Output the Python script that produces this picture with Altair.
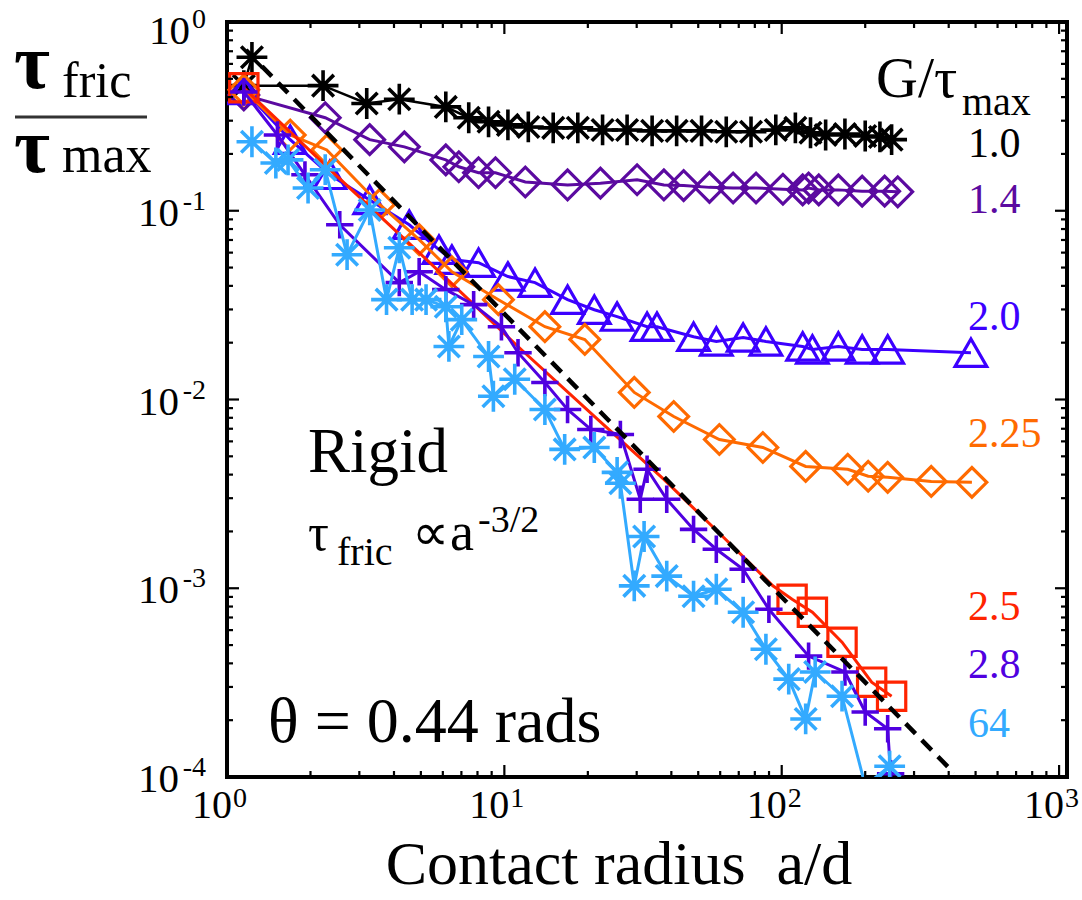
import altair as alt
import pandas as pd

# ---------------- layout ----------------
PADL, PADT, W, H = 227, 22, 840, 755

# ---------------- data ----------------
series_labels = ["1.0", "1.4", "2.0", "2.25", "2.5", "2.8", "64"]
series_colors = ["#000000", "#5b0aa0", "#3c00ff", "#ff6a00", "#ff2400", "#5000e0", "#33aaff"]

g10_x = [1.23, 1.15, 2.22, 3.19, 4.18, 6.15, 7.44, 8.77, 10.3, 12.2, 15.0, 18.4, 22.6, 27.7,
         34.1, 41.8, 51.4, 63.1, 77.5, 95.2, 112, 127, 144, 169, 200, 226, 249]
g10_y = [0.65, 0.46, 0.46, 0.37, 0.39, 0.355, 0.311, 0.296, 0.285, 0.278, 0.275, 0.275, 0.268, 0.268,
         0.265, 0.265, 0.265, 0.262, 0.262, 0.268, 0.275, 0.259, 0.252, 0.255, 0.249, 0.246, 0.238]

g14_x = [1.15, 2.26, 3.27, 4.36, 6.15, 6.85, 8.07, 9.29, 11.9, 16.9, 22.2, 30.1, 37.6, 44.3,
         54.9, 66.8, 80.8, 101, 119, 125, 136, 160, 195, 235, 262]
g14_y = [0.411, 0.311, 0.238, 0.218, 0.186, 0.171, 0.159, 0.159, 0.142, 0.137, 0.140, 0.146, 0.137, 0.136,
         0.133, 0.132, 0.132, 0.130, 0.129, 0.132, 0.129, 0.129, 0.127, 0.127, 0.126]

g20_x = [1.15, 1.69, 2.35, 3.27, 4.54, 5.81, 6.47, 8.07, 10.3, 12.9, 16.9, 21.1, 25.5, 32.7, 35.5,
         48.1, 58.1, 72.6, 87.7, 119, 129, 160, 195, 241, 481]
g20_y = [0.437, 0.238, 0.155, 0.114, 0.0843, 0.0622, 0.0551, 0.0531, 0.0448, 0.0416, 0.0338, 0.0299,
         0.0275, 0.0243, 0.0243, 0.0215, 0.0203, 0.0213, 0.0203, 0.0191, 0.0184, 0.0191, 0.0184, 0.0184, 0.0177]

g225_x = [1.15, 1.69, 2.29, 3.55, 4.93, 6.47, 9.52, 14.0, 19.5, 29.4, 40.8, 59.6, 85.5, 122, 173,
          205, 241, 346, 485]
g225_y = [0.437, 0.252, 0.210, 0.108, 0.0703, 0.0475, 0.0338, 0.0243, 0.0208, 0.0109, 0.00813, 0.00614,
          0.00557, 0.00442, 0.00427, 0.00392, 0.00387, 0.00368, 0.00364]

g25_x = [1.15, 2.35, 4.93, 11.5, 21.7, 37.6, 58.1, 92.9, 109, 129, 165, 211, 249]
g25_y = [0.448, 0.165, 0.060, 0.0184, 0.00784, 0.00377, 0.00203, 0.00103, 0.000875, 0.000746,
         0.000518, 0.000318, 0.000268]
g25_marker = [True, False, False, False, False, False, False, False, True, True, True, True, True]

g28_x = [1.15, 1.52, 1.91, 2.55, 4.18, 4.93, 6.15, 7.75, 9.76, 11.2, 14.0, 16.9, 20.5, 26.2, 30.9,
         32.7, 38.5, 48.1, 58.1, 72.6, 89.9, 125, 169, 200, 241, 247]
g28_y = [0.426, 0.252, 0.155, 0.0843, 0.0416, 0.0475, 0.0382, 0.0318, 0.0243, 0.0177, 0.0123, 0.00885,
         0.00694, 0.00653, 0.00296, 0.00427, 0.00296, 0.00205, 0.00161, 0.00126, 0.000774, 0.000437,
         0.00036, 0.000221, 0.00018, 0.000104]

g64_x = [1.23, 1.50, 1.66, 1.96, 2.26, 2.71, 3.27, 3.76, 4.18, 4.65, 5.22, 6.15, 6.31, 7.02, 8.77,
         9.13, 10.9, 14.0, 16.5, 21.1, 25.5, 26.2, 29.4, 31.9, 38.5, 48.1, 58.1, 72.6, 87.7, 106,
         122, 132, 165, 200, 245]
g64_y = [0.232, 0.179, 0.186, 0.132, 0.165, 0.0585, 0.101, 0.0338, 0.0637, 0.0338, 0.0338, 0.0310,
         0.0191, 0.0265, 0.0169, 0.0104, 0.0128, 0.00885, 0.00544, 0.00557, 0.00411, 0.0036, 0.00103,
         0.00188, 0.00116, 0.000907, 0.000988, 0.000746, 0.000475, 0.00033, 0.000203, 0.00036,
         0.000268, 0.00009, 0.000114]
g64_marker = [True] * 33 + [False, True]

rigid_x = [1.17, 418]
rigid_y = [0.711, 0.000105]

x_tick_major = [1, 10, 100, 1000]
x_tick_exp = ["0", "1", "2", "3"]
y_tick_major = [1, 0.1, 0.01, 0.001, 0.0001]
y_tick_exp = ["0", "-1", "-2", "-3", "-4"]

x_title = "Contact radius\u00a0 a/d"

# ---------------- styling ----------------
ASTER = "M-1,0L1,0M0,-1L0,1M-0.7,-0.7L0.7,0.7M-0.7,0.7L0.7,-0.7"
PLUS = "M-1,0L1,0M0,-1L0,1"
FONT = "Liberation Serif"

xs = alt.Scale(type="log", domain=[1, 1068])
ys = alt.Scale(type="log", domain=[0.0001, 1])


def XE(f="x"):
    return alt.X(f"{f}:Q", scale=xs, axis=None)


def YE(f="y"):
    return alt.Y(f"{f}:Q", scale=ys, axis=None)


def series(xv, yv, color, shape, size, marker=None, lw=3, mw=3.2):
    df = pd.DataFrame({"x": xv, "y": yv, "i": list(range(len(xv))),
                       "m": marker if marker is not None else [True] * len(xv)})
    base = alt.Chart(df)
    line = base.mark_line(color=color, strokeWidth=lw, clip=True).encode(
        x=XE(), y=YE(), order="i:Q")
    pts = base.transform_filter("datum.m").mark_point(
        shape=shape, size=size, color=color, filled=False, strokeWidth=mw,
        opacity=1, clip=True).encode(x=XE(), y=YE())
    return [line, pts]


layers = []
layers += series(g10_x, g10_y, series_colors[0], ASTER, 950, lw=2.5, mw=3.6)
layers += series(g14_x, g14_y, series_colors[1], "diamond", 880)
layers += series(g20_x, g20_y, series_colors[2], "triangle-up", 1000)
layers += series(g225_x, g225_y, series_colors[3], "diamond", 880)
layers += series(g25_x, g25_y, series_colors[4], "square", 800, marker=g25_marker, lw=3)
layers += series(g28_x, g28_y, series_colors[5], PLUS, 750, mw=3.6)
layers += series(g64_x, g64_y, series_colors[6], ASTER, 950, marker=g64_marker, mw=3.6)

rigid = alt.Chart(pd.DataFrame({"x": rigid_x, "y": rigid_y})).mark_line(
    color="black", strokeWidth=4.5, strokeDash=[14, 9], clip=True).encode(x=XE(), y=YE())
layers.append(rigid)

# ---------------- inward ticks on all four sides ----------------
x_minor = [m * d for d in [1, 10, 100] for m in range(2, 10)]
y_minor = [m * d for d in [0.0001, 0.001, 0.01, 0.1] for m in range(2, 10)]


def vticks(vals, length):
    df = pd.DataFrame({"v": vals})
    b = alt.Chart(df).mark_rule(color="black", strokeWidth=2.2)
    return [b.encode(x=XE("v"), y=alt.value(H), y2=alt.value(H - length)),
            b.encode(x=XE("v"), y=alt.value(0), y2=alt.value(length))]


def hticks(vals, length):
    df = pd.DataFrame({"v": vals})
    b = alt.Chart(df).mark_rule(color="black", strokeWidth=2.2)
    return [b.encode(y=YE("v"), x=alt.value(0), x2=alt.value(length)),
            b.encode(y=YE("v"), x=alt.value(W), x2=alt.value(W - length))]


layers += vticks(x_tick_major, 12) + vticks(x_minor, 6)
layers += hticks(y_tick_major, 12) + hticks(y_minor, 6)

# ---------------- tick labels ----------------
xl = pd.DataFrame({"v": x_tick_major, "e": x_tick_exp, "b": ["10"] * 4})
layers.append(alt.Chart(xl).mark_text(font=FONT, fontSize=40, align="right", baseline="alphabetic",
                                      dx=5).encode(x=XE("v"), y=alt.value(H + 41), text="b:N"))
layers.append(alt.Chart(xl).mark_text(font=FONT, fontSize=28, align="left", baseline="alphabetic",
                                      dx=6).encode(x=XE("v"), y=alt.value(H + 30), text="e:N"))

yl = pd.DataFrame({"v": y_tick_major, "e": y_tick_exp, "b": ["10"] * 5})
for cond, shift in [("datum.v == 1", 7), ("datum.v != 1", 0)]:
    sub = alt.Chart(yl).transform_filter(cond)
    layers.append(sub.transform_calculate(
        xb="length(datum.e) > 1 ? -48 : -37").mark_text(
        font=FONT, fontSize=41, align="right", baseline="alphabetic", dy=15 + shift).encode(
        x=alt.X("xb:Q", scale=None), y=YE("v"), text="b:N"))
    layers.append(sub.mark_text(
        font=FONT, fontSize=28, align="right", baseline="alphabetic", dy=-1 + shift).encode(
        x=alt.value(-21), y=YE("v"), text="e:N"))


# ---------------- annotations ----------------
def txt(ax, ay, s, size, color="black", align="left", weight="normal"):
    return alt.Chart(pd.DataFrame({"t": [s]})).mark_text(
        font=FONT, fontSize=size, align=align, baseline="alphabetic", color=color,
        fontWeight=weight).encode(x=alt.value(ax - PADL), y=alt.value(ay - PADT), text="t:N")


# y-axis title as a fraction
layers.append(txt(14, 88, "τ", 78, weight="bold"))
layers.append(txt(62, 97, "fric", 50))
layers.append(alt.Chart(pd.DataFrame({"t": [0]})).mark_rule(color="#333333", strokeWidth=3).encode(
    x=alt.value(15 - PADL), x2=alt.value(147 - PADL), y=alt.value(117 - PADT)))
layers.append(txt(14, 172, "τ", 78, weight="bold"))
layers.append(txt(62, 172, "max", 52))

# x-axis title
layers.append(txt(619, 884, x_title, 62, align="center"))

# legend title and labels
layers.append(txt(876, 97, "G/τ", 58))
layers.append(txt(962, 115, "max", 40))
label_baselines = [157, 213, 330, 447, 620, 678, 737]
for lab, col, yb in zip(series_labels, series_colors, label_baselines):
    layers.append(txt(968, yb, lab, 42, color=col))

# rigid annotation
layers.append(txt(308, 472, "Rigid", 63))
layers.append(txt(308, 550, "τ", 52))
layers.append(txt(337, 565, "fric", 40))
layers.append(txt(412, 550, "∝", 52))
layers.append(txt(450, 550, "a", 54))
layers.append(txt(478, 532, "-3/2", 38))
layers.append(txt(268, 742, "θ = 0.44 rads", 64))

chart = alt.layer(*layers).properties(
    width=W, height=H,
    autosize=alt.AutoSizeParams(type="none"),
    padding={"left": PADL, "top": PADT, "right": 1082 - PADL - W, "bottom": 900 - PADT - H},
    background="white",
).configure_view(stroke="black", strokeWidth=4)

chart.save("out.html", embed_options={"renderer": "svg", "actions": False})
